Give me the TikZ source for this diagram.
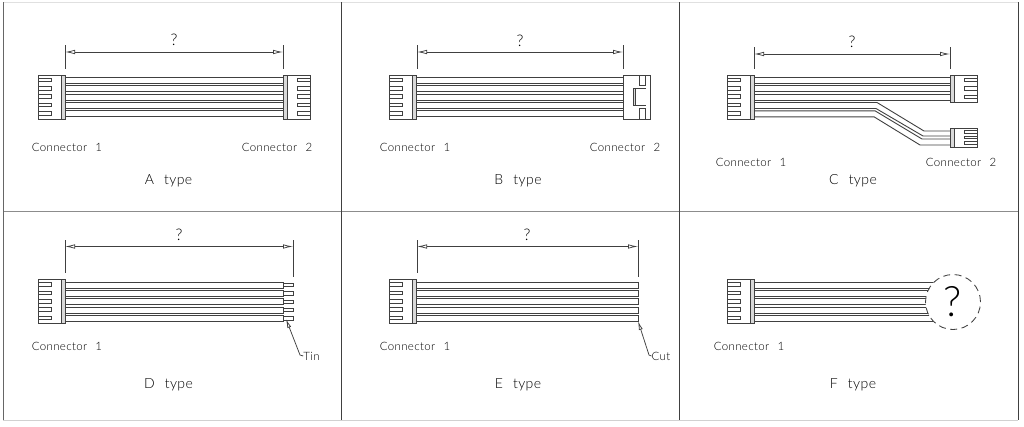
\documentclass[tikz,border=0pt]{standalone}
\usepackage{fontspec}
\setmainfont{Lato Light}[LetterSpace=3,WordSpace=2.4]
\usepackage{xcolor}
\usepackage{tikz}
\usetikzlibrary{arrows.meta,positioning}
\definecolor{cadline}{gray}{0.25}

\begin{document}
\begin{tikzpicture}[
        x=1pt, y=-1pt,
        line/.style={draw=cadline, line width=0.9pt},
        bar/.style={draw=cadline, fill=cadline!20, line width=0.9pt},
        dim/.style={draw=cadline, line width=0.75pt, {Latex[open,length=10pt,width=4.5pt]}-{Latex[open,length=10pt,width=4.5pt]}},
        ext/.style={draw=cadline, line width=0.8pt},
        leader/.style={draw=cadline, line width=0.75pt, -{Latex[open,length=9pt,width=4pt]}},
        label/.style={text=black, font=\fontsize{11.5}{14}\selectfont, inner sep=0pt},
        title/.style={text=black, font=\fontsize{14}{16}\selectfont, inner sep=0pt},
        quest/.style={text=black, font=\fontsize{16}{18}\selectfont, inner sep=0pt},
        plug/.pic={
            \draw[line] (0,0) rectangle (27,44);
            \draw[bar] (23,0) rectangle (27,44);
            \foreach \p in {5,13.3,21.7,30,38.3}
                \draw[line] (0,\p-1.8) -- (13,\p-1.8) -- (13,\p+1.8) -- (0,\p+1.8);
        }
    ]
        \useasboundingbox (0,0) rectangle (1024,426);

        % Frame
        \draw[draw=black!12, line width=0.8pt] (3,2) -- (1018,2);
        \draw[draw=black!18, line width=0.8pt] (3,420) -- (1018,420);
        \draw[draw=black!45, line width=1pt] (3,211.5) -- (1018,211.5);
        \draw[draw=black!60, line width=1pt] (3,2) -- (3,420);
        \draw[draw=black!75, line width=1pt] (341.5,2) -- (341.5,420);
        \draw[draw=black!75, line width=1pt] (679.5,2) -- (679.5,420);
        \draw[draw=black!75, line width=1pt] (1018,2) -- (1018,420);

        % A type
        \pic at (38,75) {plug};
        \pic[xscale=-1] at (310,75) {plug};
        \foreach \i in {0,...,4}
            \draw[line] (65,77.5+8.33*\i) rectangle (283,83.5+8.33*\i);
        \coordinate (a1) at (65,52);
        \coordinate (a2) at (283,52);
        \draw[ext] (65,45) -- (65,69);
        \draw[ext] (283,45) -- (283,69);
        \draw[dim] (a1) -- (a2);
        \node[quest] (qa) at (174,40) {?};
        \node[label] (a1lab) at (67,147) {Connector 1};
        \node[label] (a2lab) at (277,147) {Connector 2};
        \node[title] (atype) at (168.5,181) {A type};

        % B type
        \pic at (389,75) {plug};
        \foreach \i in {0,...,4}
            \draw[line] (416,77.5+8.33*\i) rectangle (623,83.5+8.33*\i);
        \draw[line] (623,75) rectangle (650,119);
        \draw[line] (639,75) rectangle (645,85.5);
        \draw[line] (639,108.5) rectangle (645,119);
        \draw[line] (646,88) -- (633,88) -- (633,105) -- (646,105);
        \draw[bar] (633,88) rectangle (635,105);
        \coordinate (b1) at (417,52);
        \coordinate (b2) at (623,52);
        \draw[ext] (417,45) -- (417,69);
        \draw[ext] (623,45) -- (623,69);
        \draw[dim] (b1) -- (b2);
        \node[quest] (qb) at (520,41) {?};
        \node[label] (b1lab) at (415,147) {Connector 1};
        \node[label] (b2lab) at (625,147) {Connector 2};
        \node[title] (btype) at (518,181) {B type};

        % C type
        \pic at (727,75) {plug};
        \foreach \i in {0,...,2}
            \draw[line] (754,77.5+8.33*\i) rectangle (950,83.5+8.33*\i);
        \draw[line] (754,102.5) -- (877,102.5) -- (924,131) -- (950,131);
        \draw[line] (754,108.5) -- (876,108.5) -- (923,136) -- (950,136);
        \draw[line] (754,110.8) -- (875,110.8) -- (922,139) -- (950,139);
        \draw[line] (754,116.8) -- (874,116.8) -- (920,145) -- (950,145);
        % upper plug
        \draw[line] (950,75) rectangle (977,102);
        \draw[bar] (950,75) rectangle (954,102);
        \foreach \p in {80,88.5,97}
            \draw[line] (977,\p-1.8) -- (964,\p-1.8) -- (964,\p+1.8) -- (977,\p+1.8);
        % lower plug
        \draw[line] (950,128) rectangle (977,147);
        \draw[bar] (950,128) rectangle (954,147);
        \foreach \p in {132,137.5,143}
            \draw[line] (977,\p-1.3) -- (964,\p-1.3) -- (964,\p+1.3) -- (977,\p+1.3);
        \coordinate (c1) at (754,54);
        \coordinate (c2) at (950,54);
        \draw[ext] (754,47) -- (754,69);
        \draw[ext] (950,47) -- (950,69);
        \draw[dim] (c1) -- (c2);
        \node[quest] (qc) at (852,42) {?};
        \node[label] (c1lab) at (751,162) {Connector 1};
        \node[label] (c2lab) at (961,162) {Connector 2};
        \node[title] (ctype) at (853,181) {C type};

        % D type
        \pic at (38,279.5) {plug};
        \foreach \i in {0,...,4} {
            \draw[line] (65,282+8.33*\i) rectangle (283,288+8.33*\i);
            \draw[line] (283,283.3+8.33*\i) rectangle (293,286.7+8.33*\i);
        }
        \coordinate (d1) at (65,246.5);
        \coordinate (d2) at (293,246.5);
        \draw[ext] (65,240) -- (65,273);
        \draw[ext] (293,240) -- (293,277);
        \draw[dim] (d1) -- (d2);
        \node[quest] (qd) at (179,235) {?};
        \node[label] (d1lab) at (67,346) {Connector 1};
        \node[title] (dtype) at (168.5,385) {D type};
        \node[label] (tin) at (311.5,356) {Tin};
        \coordinate (tintip) at (286,319);
        \draw[leader] (tin.west) -- (300,355) -- (tintip);

        % E type
        \pic at (389,279.5) {plug};
        \foreach \i in {0,...,4}
            \draw[line] (416,282+8.33*\i) rectangle (638,288+8.33*\i);
        \coordinate (e1) at (417,246.5);
        \coordinate (e2) at (638,246.5);
        \draw[ext] (417,240) -- (417,273);
        \draw[ext] (638,240) -- (638,277);
        \draw[dim] (e1) -- (e2);
        \node[quest] (qe) at (527,235) {?};
        \node[label] (e1lab) at (415,346) {Connector 1};
        \node[title] (etype) at (518,385) {E type};
        \node[label] (cut) at (661,356) {Cut};
        \coordinate (cuttip) at (638,321);
        \draw[leader] (cut.west) -- (649,355) -- (cuttip);

        % F type
        \pic at (727,279.5) {plug};
        \foreach \i in {0,...,4}
            \draw[line] (754,282+8.33*\i) rectangle (955,288+8.33*\i);
        \node[circle, draw=cadline, dash pattern=on 7pt off 4.5pt, fill=white, line width=0.85pt, minimum size=55pt, inner sep=0pt, text=black, font=\fontsize{42}{44}\selectfont] (qf) at (953,302) {?};
        \node[label] (f1lab) at (749,346) {Connector 1};
        \node[title] (ftype) at (853,385) {F type};
    \end{tikzpicture}
\end{document}
